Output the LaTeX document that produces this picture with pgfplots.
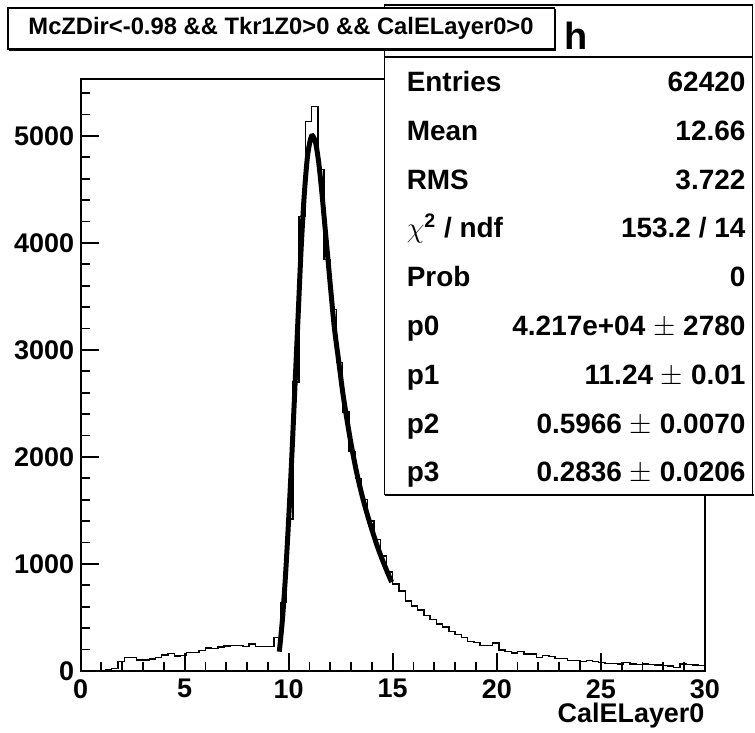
\documentclass[border=0pt]{standalone}
\usepackage{fontspec}
\setmainfont{Liberation Sans}
\usepackage{pgfplots}
\pgfplotsset{compat=1.18}
\newcommand\labfont{\fontsize{13.5}{16}\selectfont\bfseries}
\newcommand\statfont{\fontsize{14}{17}\selectfont\bfseries}
\begin{document}
\begin{tikzpicture}
\begin{scope}[x=0.5pt,y=-0.5pt]
\fill[white] (0,0) rectangle (755,734);
\useasboundingbox (0,0) rectangle (755,734);
\end{scope}
\begin{axis}[
  at={(40.35pt,-336pt)}, anchor=south west,
  scale only axis, width=312.65pt, height=296.5pt,
  xmin=0, xmax=30, ymin=0, ymax=5532,
  xtick={0,5,...,30}, minor xtick={0,1,...,30},
  ytick={0,1000,...,5000}, minor ytick={0,200,...,5400},
  xtick pos=bottom, ytick pos=left,
  tick align=inside,
  major tick length=9pt, minor tick length=4.5pt,
  tick style={black, line width=0.9pt},
  axis line style={line width=1pt},
  /pgf/number format/assume math mode=true,
  /pgf/number format/1000 sep={},
  ticklabel style={font=\labfont},
  yticklabel style={inner sep=0pt, xshift=-3pt},
  xticklabel style={inner sep=0pt, yshift=-4pt},
  xlabel={CalELayer0},
  xlabel style={at={(rel axis cs:1,0)}, anchor=east, inner sep=0pt, yshift=-22.5pt, font=\labfont},
]
\addplot[const plot, black, line width=0.7pt] coordinates {
(0.0,0)(0.3,0)(0.6,0)(0.9,3)(1.2,13)(1.5,25)(1.8,87)(2.1,128)(2.4,128)(2.7,103)
(3.0,103)(3.3,112)(3.6,128)(3.9,150)(4.2,165)(4.5,140)(4.8,145)(5.1,170)(5.4,175)(5.7,193)
(6.0,215)(6.3,210)(6.6,222)(6.9,233)(7.2,240)(7.5,235)(7.8,228)(8.1,250)(8.4,227)(8.7,227)
(9.0,227)(9.3,311)(9.6,640)(9.9,1420)(10.2,2700)(10.5,4244)(10.8,5133)(11.1,5273)(11.4,4683)(11.7,3843)
(12.0,3377)(12.3,2882)(12.6,2420)(12.9,2052)(13.2,1800)(13.5,1604)(13.8,1400)(14.1,1230)(14.4,1073)(14.7,923)
(15.0,811)(15.3,746)(15.6,653)(15.9,606)(16.2,570)(16.5,520)(16.8,480)(17.1,440)(17.4,410)(17.7,370)
(18.0,340)(18.3,310)(18.6,275)(18.9,265)(19.2,236)(19.5,236)(19.8,261)(20.1,196)(20.4,180)(20.7,168)
(21.0,180)(21.3,159)(21.6,159)(21.9,127)(22.2,143)(22.5,134)(22.8,118)(23.1,118)(23.4,96)(23.7,96)
(24.0,87)(24.3,96)(24.6,87)(24.9,81)(25.2,72)(25.5,72)(25.8,65)(26.1,81)(26.4,65)(26.7,62)
(27.0,65)(27.3,59)(27.6,56)(27.9,50)(28.2,47)(28.5,34)(28.8,65)(29.1,59)(29.4,56)(29.7,50)
(30.0,50)};
\addplot[smooth, black, line width=2.5pt] coordinates {
(9.55,180)(9.7,480)(9.85,900)(10.0,1420)(10.15,2000)(10.3,2650)(10.45,3300)(10.6,3950)
(10.75,4450)(10.9,4800)(11.05,4970)(11.15,5000)(11.3,4930)(11.45,4740)(11.6,4460)(11.75,4140)
(11.9,3820)(12.05,3500)(12.2,3200)(12.4,2900)(12.6,2600)(12.8,2350)(13.0,2120)(13.25,1870)
(13.5,1660)(13.75,1480)(14.0,1320)(14.25,1170)(14.5,1040)(14.75,920)(14.95,830)};
\end{axis}
\begin{scope}[x=0.5pt,y=-0.5pt]
% stats box
\fill[white] (385,5) rectangle (754,495);
\draw[line width=0.6pt] (385,5) rectangle (754,495);
\draw[line width=1.2pt] (386,496) -- (755,496);
\draw[line width=0.6pt] (385,57) -- (754,57);
\node[font=\fontsize{19}{22}\selectfont\bfseries, anchor=base, inner sep=0pt] at (577,50) {h};
\begin{scope}[every node/.style={font=\statfont, inner sep=0pt}]
\node[anchor=base west] at (407,92) {Entries};
\node[anchor=base east] at (747,92) {62420};
\node[anchor=base west] at (407,141) {Mean};
\node[anchor=base east] at (747,141) {12.66};
\node[anchor=base west] at (407,190) {RMS};
\node[anchor=base east] at (747,190) {3.722};
\node[anchor=base west] at (407,238) {$\chi$\textsuperscript{2} / ndf};
\node[anchor=base east] at (747,238) {153.2 / 14};
\node[anchor=base west] at (407,287) {Prob};
\node[anchor=base east] at (747,287) {0};
\node[anchor=base west] at (407,336) {p0};
\node[anchor=base east] at (747,336) {4.217e+04 $\pm$ 2780};
\node[anchor=base west] at (407,385) {p1};
\node[anchor=base east] at (747,385) {11.24 $\pm$ 0.01};
\node[anchor=base west] at (407,434) {p2};
\node[anchor=base east] at (747,434) {0.5966 $\pm$ 0.0070};
\node[anchor=base west] at (407,482) {p3};
\node[anchor=base east] at (747,482) {0.2836 $\pm$ 0.0206};
\end{scope}
% title box
\fill[white] (8,8) rectangle (555,49);
\draw[line width=0.6pt] (8,8) rectangle (555,49);
\draw[line width=1.2pt] (9,50) -- (556,50) -- (556,9);
\node[font=\fontsize{11.9}{14}\selectfont\bfseries, inner sep=0pt] at (281.5,28.5) {McZDir<-0.98 \&\& Tkr1Z0>0 \&\& CalELayer0>0};
\end{scope}
\end{tikzpicture}
\end{document}
